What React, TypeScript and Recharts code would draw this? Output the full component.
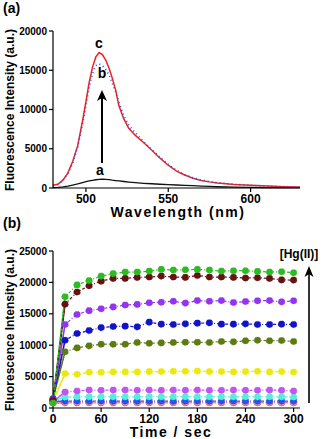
import * as React from "react"
import { LineChart, Line, XAxis, YAxis } from "recharts"

// panel (a): emission spectra
const wavelengths = [480, 483, 486, 489, 492, 495, 498, 500, 502, 504, 506, 508, 510, 512, 514, 516, 518, 520, 523, 526, 530, 535, 540, 545, 550, 555, 560, 565, 570, 575, 580, 590, 600, 610, 620, 630]
const curveA = [50, 80, 150, 250, 380, 520, 700, 800, 900, 980, 1050, 1100, 1120, 1100, 1060, 1000, 950, 900, 830, 760, 680, 600, 540, 480, 430, 380, 340, 290, 250, 200, 160, 110, 80, 60, 50, 40]
const curveB = [300, 450, 950, 1800, 3200, 5200, 8300, 10500, 12900, 14600, 15600, 15800, 15600, 15100, 14400, 13400, 12300, 10900, 9200, 8000, 7000, 5900, 4900, 3900, 3000, 2250, 1700, 1300, 1000, 820, 660, 470, 340, 240, 170, 120]
const curveC = [350, 470, 1000, 1900, 3400, 5400, 8600, 11000, 13500, 15400, 16700, 17250, 17000, 16300, 15300, 14000, 12500, 10500, 8800, 7600, 6700, 5800, 4800, 3800, 2900, 2150, 1650, 1250, 950, 780, 640, 460, 340, 240, 170, 120]
const yTicksA = [0, 5000, 10000, 15000, 20000]
const xTicksA = [500, 550, 600]

// panel (b): kinetics at increasing [Hg(II)]
const times = [0, 15, 30, 45, 60, 75, 90, 105, 120, 135, 150, 165, 180, 195, 210, 225, 240, 255, 270, 285, 300]
const green = [800, 17700, 19600, 20300, 21000, 21400, 21650, 21650, 21800, 22070, 21970, 22020, 22070, 21970, 21800, 21860, 21860, 21750, 21650, 21700, 21540]
const maroon = [1200, 16540, 18460, 19470, 20200, 20640, 20640, 20800, 20850, 21000, 20850, 20800, 21100, 20850, 20850, 20800, 20700, 20750, 20640, 20400, 20370]
const violet = [1300, 13300, 14900, 15500, 15800, 16100, 16400, 16500, 16750, 16850, 17000, 16700, 17100, 17000, 17100, 16800, 16950, 17070, 17100, 16900, 17070]
const navy = [1400, 10800, 11860, 12340, 12800, 12980, 13030, 12920, 13670, 13350, 13300, 13400, 13510, 13560, 13350, 13350, 13400, 13300, 13300, 13350, 13300]
const olive = [1500, 8940, 9570, 9900, 10160, 10160, 10160, 10430, 10320, 10370, 10430, 10480, 10480, 10430, 10590, 10530, 10700, 10800, 10700, 10740, 10590]
const yellow = [1100, 5480, 5370, 5690, 5690, 5750, 5750, 5750, 5800, 5800, 5850, 5850, 5900, 5800, 5800, 5750, 5800, 5850, 5750, 5800, 5740]
const orchid = [1000, 2550, 2710, 2870, 2820, 2870, 2870, 2820, 2870, 2820, 2870, 2820, 2870, 2820, 2820, 2870, 2820, 2820, 2870, 2820, 2710]
const cyan = [1100, 1750, 1780, 1800, 1780, 1800, 1780, 1780, 1800, 1780, 1780, 1800, 1780, 1780, 1800, 1780, 1780, 1800, 1780, 1780, 1760]
const blue = [1000, 1100, 1110, 1100, 1120, 1100, 1110, 1100, 1100, 1110, 1080, 1100, 1110, 1100, 1100, 1110, 1100, 1100, 1080, 1100, 1100]
const red = [850, 850, 850, 850, 850, 850, 850, 850, 850, 850, 850, 830, 850, 850, 850, 850, 850, 850, 850, 840, 830]
const pink = [900, 900, 900, 900, 900, 900, 900, 900, 900, 900, 900, 900, 900, 900, 900, 900, 900, 900, 900, 880, 880]
const yTicksB = [0, 5000, 10000, 15000, 20000, 25000]
const xTicksB = [0, 60, 120, 180, 240, 300]

const seriesB = [
  { key: "red", color: "#ee1111", values: red },
  { key: "pink", color: "#ff8a9a", values: pink },
  { key: "blue", color: "#2255ee", values: blue },
  { key: "cyan", color: "#55eedd", values: cyan },
  { key: "orchid", color: "#c155ee", values: orchid },
  { key: "yellow", color: "#eaea10", values: yellow },
  { key: "olive", color: "#5e7a12", values: olive },
  { key: "navy", color: "#1212c8", values: navy },
  { key: "violet", color: "#9434ee", values: violet },
  { key: "maroon", color: "#641212", values: maroon },
  { key: "green", color: "#2cbb22", values: green },
]

const spectra = wavelengths.map((w, i) => ({ w, a: curveA[i], b: curveB[i], c: curveC[i] }))

const kinetics = times.map((t, i) => {
  const row: any = { t }
  seriesB.forEach((s) => {
    row[s.key] = s.values[i]
    row[s.key + "_head"] = t <= 15 ? s.values[i] : null
  })
  return row
})

const font = "'Liberation Sans', Arial, sans-serif"
const yTick = { fontSize: 10, fontWeight: 700, fill: "#000", fontFamily: font }
const xTick = { fontSize: 12, fontWeight: 700, fill: "#000", fontFamily: font }
const axisLine = { stroke: "#000", strokeWidth: 1.2 }

export default function App() {
  return (
    <div style={{ position: "absolute", left: 0, top: 0, width: 322, height: 439, background: "#fff" }}>
      <div style={{ position: "absolute", left: 0, top: 0 }}>
        <LineChart width={322} height={215} data={spectra} margin={{ top: 31, right: 22, left: 0, bottom: 0 }}>
          <XAxis dataKey="w" type="number" domain={[480, 630]} ticks={xTicksA} tick={xTick}
            tickSize={4} axisLine={axisLine} tickLine={axisLine} height={27} />
          <YAxis type="number" domain={[0, 20000]} ticks={yTicksA} tick={yTick}
            tickSize={4} axisLine={axisLine} tickLine={axisLine} width={53} />
          <Line dataKey="a" stroke="#111" strokeWidth={1.3} dot={false} isAnimationActive={false} />
          <Line dataKey="c" stroke="#f02020" strokeWidth={1.5} dot={false} isAnimationActive={false} />
          <Line dataKey="b" stroke="#3355ee" strokeWidth={1.8} strokeDasharray="1 3" dot={false} isAnimationActive={false} />
        </LineChart>
      </div>
      <div style={{ position: "absolute", left: 0, top: 220 }}>
        <LineChart width={322} height={215} data={kinetics} margin={{ top: 31, right: 22, left: 0, bottom: 0 }}>
          <XAxis dataKey="t" type="number" domain={[0, 308]} ticks={xTicksB} tick={xTick}
            tickSize={4} axisLine={axisLine} tickLine={axisLine} height={27} />
          <YAxis type="number" domain={[0, 25000]} ticks={yTicksB} tick={yTick}
            tickSize={4} axisLine={axisLine} tickLine={axisLine} width={53} />
          {seriesB.map((s) => (
            <Line key={s.key + "_head"} dataKey={s.key + "_head"} stroke={s.color} strokeWidth={1.5}
              dot={false} connectNulls={false} isAnimationActive={false} />
          ))}
          {seriesB.map((s) => (
            <Line key={s.key} dataKey={s.key} stroke={s.color} strokeWidth={1.2} strokeDasharray="3 2 1 2"
              dot={{ r: 3.3, fill: s.color, stroke: s.color, strokeWidth: 0.5 }} isAnimationActive={false} />
          ))}
        </LineChart>
      </div>
      <svg width={322} height={439} style={{ position: "absolute", left: 0, top: 0, pointerEvents: "none" }}
        fontFamily={font} fontWeight={700}>
        <text x={3} y={13} fontSize={14}>(a)</text>
        <text x={3} y={228} fontSize={14}>(b)</text>
        <text x={99} y={48} fontSize={14} textAnchor="middle">c</text>
        <text x={102} y={78} fontSize={14} textAnchor="middle">b</text>
        <text x={100} y={175} fontSize={14} textAnchor="middle">a</text>
        {/* concentration arrows */}
        <line x1={102} y1={163} x2={102} y2={98} stroke="#000" strokeWidth={2} />
        <path d="M102,90 L97,101 L102,98 L107,101 Z" fill="#000" />
        <text x={178} y={217} fontSize={14} textAnchor="middle" letterSpacing={1.5}>Wavelength (nm)</text>
        <text x={171} y={437} fontSize={14} textAnchor="middle" letterSpacing={1.5}>Time / sec</text>
        <text transform="translate(14,110) rotate(-90)" fontSize={12} textAnchor="middle">Fluorescence Intensity (a.u.)</text>
        <text transform="translate(14,330) rotate(-90)" fontSize={12} textAnchor="middle">Fluorescence Intensity (a.u.)</text>
        <text x={299} y={258} fontSize={12} textAnchor="middle">[Hg(II)]</text>
        <line x1={309} y1={403} x2={309} y2={274} stroke="#000" strokeWidth={1.6} />
        <path d="M309,266 L304.5,277 L309,274 L313.5,277 Z" fill="#000" />
      </svg>
    </div>
  )
}
